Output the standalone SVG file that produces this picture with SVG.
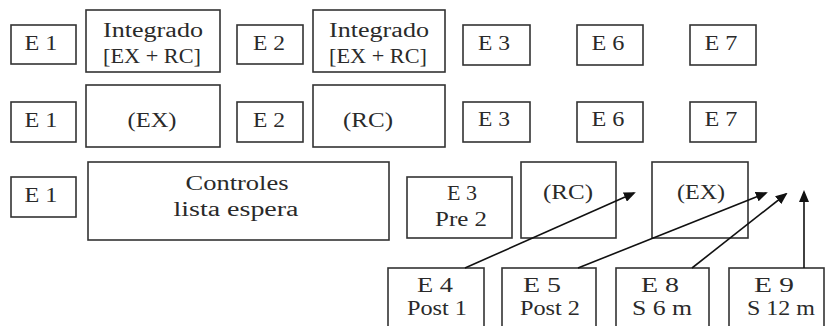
<svg xmlns="http://www.w3.org/2000/svg" width="826" height="326" viewBox="0 0 826 326">
<style>
rect{fill:#fff;stroke:#333;stroke-width:1.6}
text{font-family:"Liberation Serif","Times New Roman",serif;font-size:20px;fill:#2a2a2a;text-anchor:middle}
.c{stroke:#111;stroke-width:1.6;fill:none;marker-end:url(#ah)}
</style>
<defs>
<marker id="ah" markerWidth="12" markerHeight="10" refX="10" refY="5" orient="auto" markerUnits="userSpaceOnUse">
<path d="M0,0 L12,5 L0,10 z" fill="#111"/>
</marker>
</defs>
<rect x="0" y="0" width="826" height="326" style="fill:#fff;stroke:none"/>
<!-- Row 1 -->
<g id="r1-e1"><rect x="11" y="25" width="65" height="39"/><text x="41" y="50" textLength="33" lengthAdjust="spacingAndGlyphs">E 1</text></g>
<g id="r1-int1"><rect x="86" y="10" width="134" height="62"/><text x="153" y="37" textLength="100" lengthAdjust="spacingAndGlyphs">Integrado</text><text x="152" y="63" textLength="98" lengthAdjust="spacingAndGlyphs">[EX + RC]</text></g>
<g id="r1-e2"><rect x="237" y="25" width="66" height="39"/><text x="269" y="50" textLength="32" lengthAdjust="spacingAndGlyphs">E 2</text></g>
<g id="r1-int2"><rect x="313" y="10" width="132" height="62"/><text x="379" y="37" textLength="100" lengthAdjust="spacingAndGlyphs">Integrado</text><text x="378" y="63" textLength="98" lengthAdjust="spacingAndGlyphs">[EX + RC]</text></g>
<g id="r1-e3"><rect x="463" y="25" width="67" height="40"/><text x="494" y="50" textLength="32" lengthAdjust="spacingAndGlyphs">E 3</text></g>
<g id="r1-e6"><rect x="577" y="25" width="66" height="40"/><text x="608" y="50" textLength="33" lengthAdjust="spacingAndGlyphs">E 6</text></g>
<g id="r1-e7"><rect x="690" y="25" width="66" height="40"/><text x="721" y="50" textLength="33" lengthAdjust="spacingAndGlyphs">E 7</text></g>
<!-- Row 2 -->
<g id="r2-e1"><rect x="11" y="102" width="65" height="40"/><text x="41" y="127" textLength="33" lengthAdjust="spacingAndGlyphs">E 1</text></g>
<g id="r2-ex"><rect x="86" y="85" width="134" height="62"/><text x="152" y="127" textLength="49" lengthAdjust="spacingAndGlyphs">(EX)</text></g>
<g id="r2-e2"><rect x="237" y="102" width="66" height="40"/><text x="269" y="127" textLength="32" lengthAdjust="spacingAndGlyphs">E 2</text></g>
<g id="r2-rc"><rect x="313" y="85" width="132" height="62"/><text x="368" y="127" textLength="50" lengthAdjust="spacingAndGlyphs">(RC)</text></g>
<g id="r2-e3"><rect x="463" y="102" width="67" height="40"/><text x="494" y="126" textLength="32" lengthAdjust="spacingAndGlyphs">E 3</text></g>
<g id="r2-e6"><rect x="577" y="102" width="66" height="40"/><text x="608" y="126" textLength="33" lengthAdjust="spacingAndGlyphs">E 6</text></g>
<g id="r2-e7"><rect x="690" y="102" width="66" height="40"/><text x="721" y="126" textLength="33" lengthAdjust="spacingAndGlyphs">E 7</text></g>
<!-- Row 3 -->
<g id="r3-e1"><rect x="11" y="177" width="65" height="40"/><text x="41" y="202" textLength="33" lengthAdjust="spacingAndGlyphs">E 1</text></g>
<g id="r3-ctrl"><rect x="88" y="162" width="301" height="78"/><text x="237" y="190" textLength="103" lengthAdjust="spacingAndGlyphs">Controles</text><text x="236" y="216" textLength="125" lengthAdjust="spacingAndGlyphs">lista espera</text></g>
<g id="r3-e3"><rect x="407" y="177" width="105" height="61"/><text x="462" y="200" textLength="30" lengthAdjust="spacingAndGlyphs">E 3</text><text x="461" y="226" textLength="52" lengthAdjust="spacingAndGlyphs">Pre 2</text></g>
<g id="r3-rc"><rect x="521" y="162" width="95" height="76"/><text x="568" y="199" textLength="50" lengthAdjust="spacingAndGlyphs">(RC)</text></g>
<g id="r3-ex"><rect x="652" y="162" width="96" height="76"/><text x="701" y="199" textLength="48" lengthAdjust="spacingAndGlyphs">(EX)</text></g>
<!-- Bottom -->
<g id="b-e4"><rect x="388" y="268" width="96" height="70"/><text x="435" y="292" textLength="36" lengthAdjust="spacingAndGlyphs">E 4</text><text x="437" y="315" textLength="60" lengthAdjust="spacingAndGlyphs">Post 1</text></g>
<g id="b-e5"><rect x="502" y="268" width="94" height="70"/><text x="542" y="292" textLength="38" lengthAdjust="spacingAndGlyphs">E 5</text><text x="550" y="315" textLength="60" lengthAdjust="spacingAndGlyphs">Post 2</text></g>
<g id="b-e8"><rect x="616" y="268" width="93" height="70"/><text x="660" y="292" textLength="38" lengthAdjust="spacingAndGlyphs">E 8</text><text x="662" y="315" textLength="60" lengthAdjust="spacingAndGlyphs">S 6 m</text></g>
<g id="b-e9"><rect x="729" y="268" width="95" height="70"/><text x="774" y="292" textLength="40" lengthAdjust="spacingAndGlyphs">E 9</text><text x="781" y="315" textLength="68" lengthAdjust="spacingAndGlyphs">S 12 m</text></g>
<!-- Connectors -->
<g id="connectors">
<line class="c" x1="465" y1="268" x2="634" y2="193"/>
<line class="c" x1="578" y1="268" x2="766" y2="193"/>
<line class="c" x1="692" y1="268" x2="786" y2="194"/>
<line class="c" x1="804" y1="268" x2="804" y2="192"/>
</g>
</svg>
